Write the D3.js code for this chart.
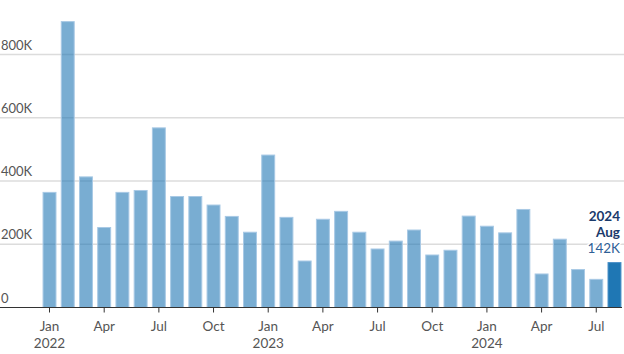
<!DOCTYPE html>
<html>
<head>
<meta charset="utf-8">
<script src="https://cdn.jsdelivr.net/npm/d3@7"></script>
<style>
  html, body { margin: 0; padding: 0; background: #fff; }
  svg { display: block; font-family: Lato, "Open Sans", sans-serif; }
</style>
</head>
<body>
<div id="chart"></div>
<script>
'use strict'
// monthly values, thousands
var months = [
  "2022-01","2022-02","2022-03","2022-04","2022-05","2022-06","2022-07","2022-08","2022-09","2022-10","2022-11","2022-12",
  "2023-01","2023-02","2023-03","2023-04","2023-05","2023-06","2023-07","2023-08","2023-09","2023-10","2023-11","2023-12",
  "2024-01","2024-02","2024-03","2024-04","2024-05","2024-06","2024-07","2024-08"
];
var values = [
  364, 904, 413, 253, 364, 370, 568, 351, 351, 324, 288, 238,
  482, 285, 147, 279, 304, 238, 185, 210, 245, 166, 181, 289,
  257, 236, 310, 106, 216, 120, 89, 142
];
var yTicks = [0, 200, 400, 600, 800];
var yTickLabels = ["0", "200K", "400K", "600K", "800K"];
var xTickMonths = ["2022-01","2022-04","2022-07","2022-10","2023-01","2023-04","2023-07","2023-10","2024-01","2024-04","2024-07"];
var xTickLabels = ["Jan","Apr","Jul","Oct","Jan","Apr","Jul","Oct","Jan","Apr","Jul"];
var xYearLabels = ["2022","","","","2023","","","","2024","",""];
var lastLabel = ["2024", "Aug", "142K"];

var W = 624, H = 354;
var data = months.map(function(m, i){ return {month: m, value: values[i]}; });

var svg = d3.select("#chart").append("svg")
    .attr("width", W).attr("height", H);

var x = d3.scaleBand()
    .domain(months)
    .range([40.4, 623.6])
    .paddingInner(0.29)
    .paddingOuter(0.145);

var y = d3.scaleLinear()
    .domain([0, 800])
    .range([307.5, 54.5]);

// gridlines
svg.append("g").selectAll("line")
  .data(yTicks.filter(function(d){ return d > 0; }))
  .enter().append("line")
    .attr("x1", 0).attr("x2", W)
    .attr("y1", d => y(d)).attr("y2", d => y(d))
    .attr("stroke", "#dcdcdc")
    .attr("stroke-width", 1.5);

// y labels
svg.append("g").selectAll("text")
  .data(yTicks)
  .enter().append("text")
    .attr("x", 1)
    .attr("y", d => y(d) - 5)
    .attr("fill", "#555")
    .style("font-size", "13px")
    .text((d, i) => yTickLabels[i]);

// bars
var n = data.length;
svg.append("g").selectAll("rect")
  .data(data)
  .enter().append("rect")
    .attr("x", d => x(d.month))
    .attr("width", x.bandwidth())
    .attr("y", d => y(d.value))
    .attr("height", d => y(0) - y(d.value))
    .attr("fill", "#1f77b4")
    .attr("fill-opacity", (d, i) => i === n - 1 ? 1 : 0.6)
    .attr("stroke", (d, i) => i === n - 1 ? "#4a90c8" : "#a8c9e5")
    .attr("stroke-width", 1);

// x axis
var xAxis = svg.append("g");
xAxis.append("line")
    .attr("x1", 0).attr("x2", 622)
    .attr("y1", y(0)).attr("y2", y(0))
    .attr("stroke", "#333").attr("stroke-width", 1);

var ticks = xAxis.selectAll("g.tick")
  .data(xTickMonths)
  .enter().append("g")
    .attr("class", "tick")
    .attr("transform", d => "translate(" + (x(d) + x.bandwidth() / 2) + ",0)");
ticks.append("line")
    .attr("y1", y(0)).attr("y2", y(0) + 5)
    .attr("stroke", "#333");
ticks.append("text")
    .attr("y", 331)
    .attr("text-anchor", "middle")
    .attr("fill", "#555")
    .style("font-size", "13.5px")
    .text((d, i) => xTickLabels[i]);
ticks.append("text")
    .attr("y", 348)
    .attr("text-anchor", "middle")
    .attr("fill", "#555")
    .style("font-size", "13.5px")
    .text((d, i) => xYearLabels[i]);

// last value label
var lab = svg.append("g")
    .attr("text-anchor", "end")
    .style("font-size", "13.5px");
[221, 237, 253].forEach(function(yy, i){
  lab.append("text")
    .attr("x", 620)
    .attr("y", yy)
    .attr("fill", i < 2 ? "#1b3a6b" : "#2f5f96")
    .attr("font-weight", i < 2 ? "bold" : "normal")
    .attr("stroke", "#fff")
    .attr("stroke-width", 3)
    .attr("paint-order", "stroke")
    .text(lastLabel[i]);
});
</script>
</body>
</html>
